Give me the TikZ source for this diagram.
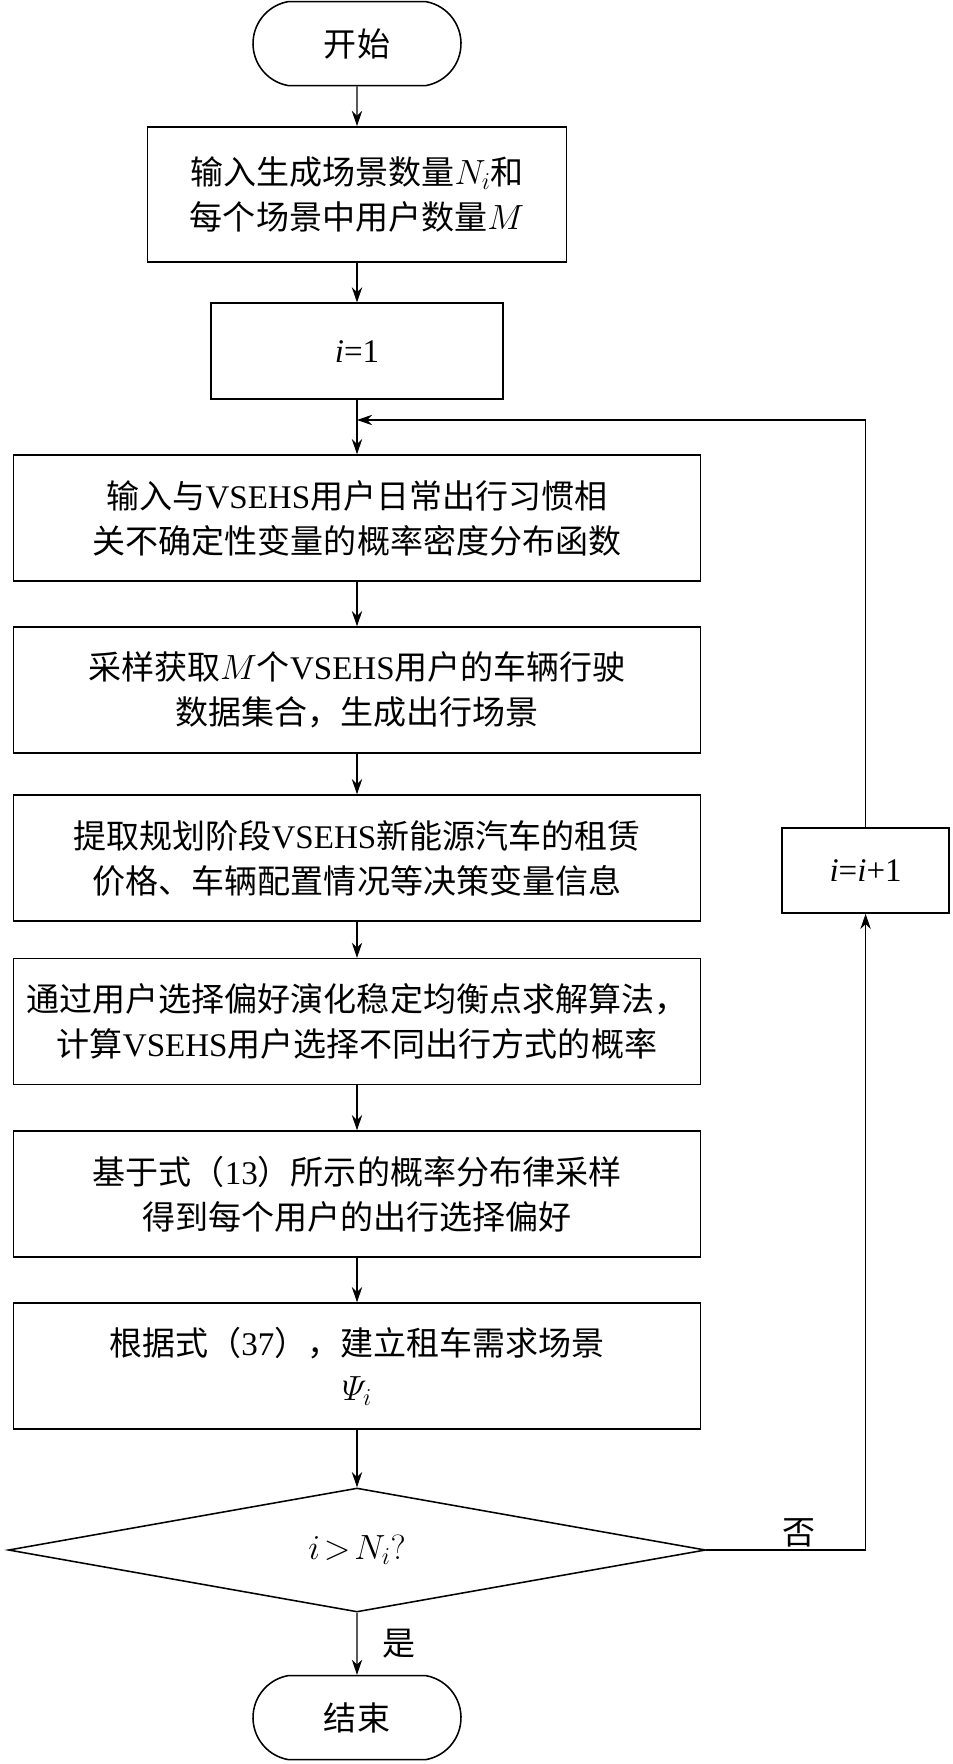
\documentclass[tikz,border=0pt]{standalone}
\usepackage{amsmath}
\usepackage{fontspec}
\setmainfont{Noto Sans CJK SC}
\newfontfamily\lat{Liberation Serif}
\usetikzlibrary{arrows.meta,shapes.geometric,shapes.misc}
\newcommand{\vsehs}{{\lat VSEHS}}
\newcommand{\li}{{\lat\itshape i}}
\tikzset{
  >={Stealth[length=3.8mm,width=2.6mm]},
  % 流程图
  term/.style={rounded rectangle,rounded rectangle arc length=160,draw,
               line width=1.1pt,minimum width=5.2cm,minimum height=2.1cm,inner sep=0pt},
  proc/.style={rectangle,draw,line width=1.1pt,align=center,inner sep=0pt,
               minimum width=17.18cm,minimum height=3.15cm},
  dec/.style={diamond,draw,line width=1.1pt,aspect=5.6,inner sep=0pt,
              minimum width=17.43cm,minimum height=3.1cm},
  arr/.style={->,line width=0.8pt},
  lbl/.style={inner sep=2pt},
}
\begin{document}
\begin{tikzpicture}[font=\fontsize{23.5}{32}\selectfont]
\useasboundingbox (0,0) rectangle (23.8,-44.1);
  \node[term] (start) at (8.925,-1.09) {开始};
  \node[proc,minimum width=10.48cm,minimum height=3.38cm] (input) at (8.925,-4.86)
    {输入生成场景数量$N_i$和\\每个场景中用户数量$M$};
  \node[proc,minimum width=7.3cm,minimum height=2.4cm] (init) at (8.925,-8.78) {\li{\lat =1}};
  \coordinate (back) at (8.925,-10.5);
  \node[proc] (pdf) at (8.925,-12.95)
    {输入与\vsehs 用户日常出行习惯相\\关不确定性变量的概率密度分布函数};
  \node[proc] (samp) at (8.925,-17.25)
    {采样获取$M$个\vsehs 用户的车辆行驶\\数据集合，生成出行场景};
  \node[proc] (plan) at (8.925,-21.45)
    {提取规划阶段\vsehs 新能源汽车的租赁\\价格、车辆配置情况等决策变量信息};
  \node[proc] (prob) at (8.925,-25.54)
    {通过用户选择偏好演化稳定均衡点求解算法，\\计算\vsehs 用户选择不同出行方式的概率};
  \node[proc] (pref) at (8.925,-29.85)
    {基于式（{\lat 13}）所示的概率分布律采样\\得到每个用户的出行选择偏好};
  \node[proc] (scen) at (8.925,-34.15)
    {根据式（{\lat 37}），建立租车需求场景\\$\varPsi_i$};
  \node[dec] (check) at (8.925,-38.75) {$i\!>\!N_i?$};
  \node[term] (stop) at (8.925,-42.94) {结束};
  \node[proc,minimum width=4.18cm,minimum height=2.13cm] (inc) at (21.64,-21.76)
    {\li{\lat =}\li{\lat +1}};
  \draw[arr] (start) -- (input);
  \draw[arr] (input) -- (init);
  \draw[arr] (init) -- (pdf);
  \draw[arr] (pdf) -- (samp);
  \draw[arr] (samp) -- (plan);
  \draw[arr] (plan) -- (prob);
  \draw[arr] (prob) -- (pref);
  \draw[arr] (pref) -- (scen);
  \draw[arr] (scen) -- (check);
  \draw[arr] (check) -- node[lbl,right=0.55cm] {是} (stop);
  \draw[arr] (check.east) -- node[lbl,above,pos=0.58] {否} (check.east -| inc.south) -- (inc.south);
  \draw[arr] (inc.north) |- (back);
\end{tikzpicture}
\end{document}
